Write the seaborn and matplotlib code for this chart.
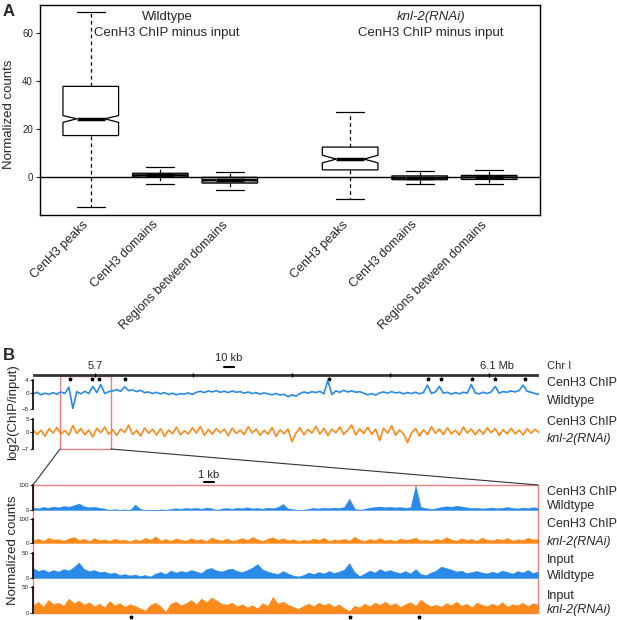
import numpy as np
import matplotlib
matplotlib.use("Agg")
import matplotlib.pyplot as plt
import matplotlib.transforms as mtrans
import seaborn as sns
from matplotlib.patches import Rectangle
from matplotlib.lines import Line2D

# ---- panel A : box summaries (normalized counts, CenH3 ChIP minus input)
box_labels = ["CenH3 peaks", "CenH3 domains", "Regions between domains"] * 2
box_pos = [0, 1, 2, 3.73, 4.73, 5.73]
box_med = [24.3, 0.75, -1.3, 7.5, -0.3, -0.1]
box_q1 = [17.3, 0.0, -2.5, 3.0, -1.1, -1.0]
box_q3 = [37.8, 1.6, -0.1, 12.5, 0.5, 0.7]
box_lo = [-12.5, -2.8, -5.3, -9.0, -2.9, -2.8]
box_hi = [68.7, 4.0, 2.2, 27.0, 2.5, 2.8]
box_cilo = [22.8, 0.6, -1.5, 5.9, -0.45, -0.25]
box_cihi = [25.6, 0.9, -1.1, 9.1, -0.15, 0.05]

# ---- panel B : chromosome I overview (Mb)
chr_lo, chr_hi = 5.637, 6.151
ruler_ticks = [5.7, 5.8, 5.9, 6.0, 6.1]
peak_mb = [5.6745, 5.697, 5.704, 5.7305, 5.9376, 6.0381, 6.0513, 6.0827, 6.1061, 6.1365]
zoom_lo, zoom_hi = 5.6645, 5.7162

# log2(ChIP/input), 128 bins across the overview
wt_log2 = [-0.3, 0.2, -0.6, -0.1, -0.5, 0.1, -0.4, 0.3, -0.2, 1.8, -4.8, 0.4, -0.3, 0.5, -0.2, 2.0,
           0.1, 2.6, -0.2, 0.4, 0.6, 1.0, 0.5, 1.9, 0.7, 0.9, 0.4, 0.8, 0.1, 0.3, -0.2, 0.2,
           -0.3, 0.1, -0.5, -0.1, -0.6, -0.2, -0.4, 0.0, -0.5, 0.2, 0.5, 0.1, 0.6, 0.3, 0.7, 0.2,
           0.5, 0.1, 0.6, 0.2, 0.4, -0.1, 0.3, -0.2, 0.1, -0.4, 0.0, -0.3, -0.6, -0.2, -0.7, -0.4,
           -1.2, -0.6, -1.0, -0.2, 0.3, -0.1, 0.4, 0.1, 0.5, -0.3, 3.9, -0.5, 0.6, 0.2, 0.8, 0.3,
           0.6, 0.2, 0.4, -0.1, -0.6, -0.2, -0.7, 0.0, 0.3, -0.1, 0.4, 0.0, 0.2, -0.3, 0.1, -0.2,
           0.2, -0.3, 0.1, 2.4, -0.2, 0.3, 2.0, -0.1, 0.2, -0.4, 0.1, -0.3, 0.2, -0.1, 2.6, 0.0,
           -0.3, 0.2, -0.2, 0.3, 2.0, -0.1, 0.4, 0.2, 0.6, 0.3, 0.7, 2.4, 0.5, 0.2, -0.2, -0.5]
knl_log2 = [0.8, -1.2, 0.5, -1.9, 1.1, -0.6, 1.6, -1.0, 0.4, -1.5, 2.4, -0.8, 1.2, -1.3, 0.6, -2.2,
            1.3, -0.5, 1.8, -1.1, 0.7, -1.6, 1.0, -0.4, 2.6, -1.2, 0.5, -1.8, 1.4, -0.7, 0.9, -1.4,
            1.1, -2.0, 0.6, -0.9, 1.7, -1.3, 0.3, -1.0, 1.5, -0.6, 2.0, -1.5, 0.8, -1.1, 1.2, -0.5,
            0.9, -1.7, 1.4, -0.8, 0.6, -1.2, 1.9, -0.6, 1.0, -1.5, 0.5, -1.1, 1.6, -2.0, 0.7, -0.9,
            1.0, -4.1, -0.7, 1.5, -1.3, 0.8, -0.6, 2.1, -1.0, 1.3, -1.6, 0.9, -0.5, 1.8, -1.2, 0.6,
            2.6, -1.4, 1.1, -0.8, 1.7, -1.1, 0.9, -3.6, 1.3, -0.7, 2.3, -1.5, 0.6, -1.0, -4.5, -0.6,
            1.2, -1.8, 0.7, -1.2, 1.9, -0.7, 0.9, -1.2, 1.5, -1.0, 0.5, -1.4, 1.8, -0.6, 1.0, -1.3,
            0.8, -1.1, 1.5, -0.5, 1.2, -1.6, 0.7, -0.9, 1.3, -1.0, 0.6, -1.4, 1.1, -0.7, 0.9, -0.4]

# zoomed region, normalized counts, 100 bins
chip_wt = [10, 7, 12, 9, 14, 11, 16, 13, 19, 26, 15, 11, 13, 9, 6, 0, 4, 0, 3, 0,
           22, 5, 0, 2, 0, 3, 0, 4, 7, 5, 8, 6, 9, 5, 10, 7, 0, 6, 8, 5,
           9, 7, 11, 6, 8, 5, 10, 7, 12, 24, 6, 3, 0, 0, 5, 8, 6, 9, 7, 10,
           8, 12, 46, 7, 0, 5, 9, 12, 14, 11, 13, 10, 12, 9, 11, 98, 12, 8, 4, 7,
           12, 15, 13, 17, 14, 11, 7, 9, 6, 8, 10, 7, 9, 12, 8, 6, 10, 8, 11, 9]
chip_knl = [12, 18, 9, 22, 14, 16, 10, 19, 25, 13, 17, 8, 21, 12, 15, 9, 18, 11, 14, 7,
            16, 10, 22, 13, 28, 11, 17, 9, 19, 14, 10, 20, 12, 16, 8, 23, 15, 11, 19, 9,
            14, 21, 12, 26, 15, 9, 18, 24, 13, 20, 11, 16, 8, 14, 10, 19, 13, 22, 9, 15,
            12, 18, 10, 26, 14, 9, 17, 12, 21, 11, 15, 8, 19, 13, 16, 22, 10, 14, 9, 18,
            12, 24, 15, 10, 20, 13, 17, 9, 23, 14, 11, 18, 13, 21, 10, 16, 12, 22, 15, 17]
input_wt = [20, 14, 17, 12, 16, 13, 18, 15, 22, 31, 18, 14, 16, 12, 13, 9, 11, 6, 8, 5,
            7, 4, 6, 3, 9, 12, 8, 15, 11, 14, 12, 16, 13, 10, 18, 20, 15, 13, 17, 19,
            14, 12, 16, 21, 28, 17, 13, 10, 8, 14, 9, 5, 3, 6, 11, 8, 12, 9, 14, 10,
            13, 17, 30, 12, 4, 9, 15, 11, 18, 13, 16, 12, 10, 14, 9, 18, 8, 6, 11, 15,
            23, 20, 17, 13, 15, 10, 12, 14, 11, 9, 13, 10, 15, 12, 9, 14, 11, 16, 10, 13]
input_knl = [15, 22, 12, 25, 17, 20, 14, 28, 19, 24, 16, 21, 13, 18, 11, 23, 15, 19, 12, 17,
             14, 9, 5, 16, 20, 13, 3, 18, 22, 15, 19, 25, 17, 28, 21, 30, 24, 18, 16, 20,
             13, 17, 11, 15, 9, 19, 14, 31, 18, 22, 16, 12, 8, 14, 18, 13, 20, 15, 19, 12,
             17, 9, 4, 14, 11, 18, 13, 20, 16, 22, 15, 19, 12, 17, 21, 14, 26, 18, 13, 16,
             12, 19, 15, 22, 14, 18, 11, 20, 16, 13, 18, 14, 21, 12, 17, 15, 20, 13, 19, 16]

track_names = [("CenH3 ChIP", "Wildtype"), ("CenH3 ChIP", "knl-2(RNAi)"),
               ("Input", "Wildtype"), ("Input", "knl-2(RNAi)")]

blue = "#2a8ae8"
orange = "#ff8a1c"
red = "#ec7f7f"

sns.set_style("white")
plt.rcParams["font.family"] = ["Liberation Sans", "DejaVu Sans"]

W, H = 617, 620
fig = plt.figure(figsize=(W / 100, H / 100), dpi=100)


def px_axes(x0, y0, x1, y1):
    return fig.add_axes([x0 / W, 1 - y1 / H, (x1 - x0) / W, (y1 - y0) / H])


def ftext(x, y, s, **kw):
    fig.text(x / W, 1 - y / H, s, **kw)


def to_fig(ax, x, y):
    return fig.transFigure.inverted().transform(ax.transData.transform((x, y)))


# ================= panel A
ax = px_axes(40, 5, 540, 215)
stats = []
for i in range(len(box_pos)):
    stats.append(dict(med=box_med[i], q1=box_q1[i], q3=box_q3[i], whislo=box_lo[i],
                      whishi=box_hi[i], cilo=box_cilo[i], cihi=box_cihi[i], fliers=[]))
ax.axhline(0, color="black", lw=1, zorder=1)
art = ax.bxp(stats, positions=box_pos, widths=0.8, shownotches=True, patch_artist=True,
             showfliers=False, manage_ticks=False, capwidths=0.4,
             boxprops=dict(facecolor="white", edgecolor="black", lw=0.9),
             medianprops=dict(color="black", lw=2.5),
             whiskerprops=dict(color="black", lw=0.9, ls=(0, (3, 2.5))),
             capprops=dict(color="black", lw=0.9), zorder=2)
# the thin boxes read as grey in the original
for patch, lo, hi in zip(art["boxes"], box_q1, box_q3):
    if hi - lo < 5:
        patch.set_facecolor("#8c8c8c")
ax.set_xlim(-0.73, 6.46)
ax.set_ylim(-15.8, 71.7)
ax.set_yticks([0, 20, 40, 60])
ax.set_xticks([])
# rotated category labels, ending just left of / below each box
lab_trans = mtrans.blended_transform_factory(ax.transData, ax.transAxes) + \
    mtrans.ScaledTranslation(-4 / 100, -8 / 100, fig.dpi_scale_trans)
for pos, lab in zip(box_pos, box_labels):
    ax.text(pos, 0, lab, transform=lab_trans, rotation=45, rotation_mode="anchor",
            ha="right", va="center", fontsize=9)
ax.tick_params(axis="y", length=3, width=0.8, labelsize=7, left=True, pad=2)
for s in ax.spines.values():
    s.set_color("black")
    s.set_linewidth(1)
ax.set_ylabel("Normalized counts", fontsize=9.5)
ax.yaxis.set_label_coords(-0.05, 0.48)
ax.text(0.254, 0.943, "Wildtype", transform=ax.transAxes, ha="center", va="center", fontsize=9.5)
ax.text(0.254, 0.867, "CenH3 ChIP minus input", transform=ax.transAxes, ha="center", va="center", fontsize=9.5)
ax.text(0.782, 0.943, "knl-2(RNAi)", transform=ax.transAxes, ha="center", va="center", fontsize=9.5, style="italic")
ax.text(0.782, 0.867, "CenH3 ChIP minus input", transform=ax.transAxes, ha="center", va="center", fontsize=9.5)

# ================= panel B overview
ruler = px_axes(33, 350, 539, 380)
ruler.set_xlim(chr_lo, chr_hi)
ruler.set_ylim(0, 1)
ruler.axis("off")
ruler.axhline(0.167, color="#333333", lw=2)
ruler.plot(ruler_ticks, [0.167] * len(ruler_ticks), ls="none", marker="|", ms=3, color="black")
ruler.scatter(peak_mb, [0.05] * len(peak_mb), marker="*", s=5, color="black", clip_on=False)
ruler.text(5.7, 0.47, "5.7", ha="center", va="center", fontsize=8)
ruler.annotate("6.1 Mb", (6.1, 0.47), xytext=(-6, 0), textcoords="offset points",
               ha="left", va="center", fontsize=8)
ruler.plot([5.831, 5.841], [0.43, 0.43], color="black", lw=1.5)
ruler.text(5.836, 0.72, "10 kb", ha="center", va="center", fontsize=8)

top_x = np.linspace(chr_lo, chr_hi, len(wt_log2))
ax_b1 = px_axes(33, 380, 539, 409)
sns.lineplot(x=top_x, y=wt_log2, ax=ax_b1, color=blue, lw=1.2, estimator=None)
ax_b1.set_ylim(-5, 4)
ax_b1.set_yticks([4, 0, -5])
ax_b2 = px_axes(33, 419, 539, 449)
sns.lineplot(x=top_x, y=knl_log2, ax=ax_b2, color=orange, lw=1.2, estimator=None)
ax_b2.set_ylim(-7, 5)
ax_b2.set_yticks([5, 0, -7])
for a in (ax_b1, ax_b2):
    a.set_xlim(chr_lo, chr_hi)

# ================= panel B zoom
low_x = np.linspace(zoom_lo, zoom_hi, len(chip_wt))
rows = [(485, 510, chip_wt, blue, 100), (519, 543, chip_knl, orange, 100),
        (553, 578, input_wt, blue, 50), (587, 613, input_knl, orange, 50)]
low_axes = []
for y0, y1, vals, col, top in rows:
    a = px_axes(33, y0, 538, y1)
    a.fill_between(low_x, vals, 0, color=col, lw=0.3, edgecolor=col)
    a.set_xlim(zoom_lo, zoom_hi)
    a.set_ylim(0, top)
    a.set_yticks([0, top])
    low_axes.append(a)

for a in [ax_b1, ax_b2] + low_axes:
    a.patch.set_visible(False)
    sns.despine(ax=a, top=True, right=True, bottom=True)
    a.spines["left"].set_color("black")
    a.spines["left"].set_linewidth(1.2)
    a.set_xticks([])
    a.set_xlabel("")
    a.set_ylabel("")
    a.tick_params(axis="y", length=2, width=0.8, labelsize=4.5, pad=1, left=True)

low_axes[0].plot([5.6820, 5.6830], [112, 112], color="black", lw=1.5, clip_on=False)
low_axes[0].text(5.6825, 140, "1 kb", ha="center", va="center", fontsize=8)
low_peaks = [p for p in peak_mb if zoom_lo < p < zoom_hi]
low_axes[3].scatter(low_peaks, [-8] * len(low_peaks), marker="*", s=5, color="black", clip_on=False)

# zoom box + connectors
x0, y0 = to_fig(ax_b2, zoom_lo, -7)
x1, y1 = to_fig(ruler, zoom_hi, 0.13)
fig.add_artist(Rectangle((x0, y0), x1 - x0, y1 - y0, transform=fig.transFigure,
                         fill=False, ec=red, lw=1, zorder=-1))
lx0, ly0 = to_fig(low_axes[3], zoom_lo, 0)
lx1, ly1 = to_fig(low_axes[0], zoom_hi, 100)
fig.add_artist(Rectangle((lx0, ly0), lx1 - lx0, ly1 - ly0, transform=fig.transFigure,
                         fill=False, ec=red, lw=1, zorder=-1))
x1b, _ = to_fig(ax_b2, zoom_hi, -7)
fig.add_artist(Line2D([x0, lx0], [y0, ly1], transform=fig.transFigure, color="#333333", lw=0.8))
fig.add_artist(Line2D([x1b, lx1], [y0, ly1], transform=fig.transFigure, color="#333333", lw=0.8))

# labels
ftext(3, 12, "A", fontsize=12, fontweight="bold", va="center")
ftext(3, 355, "B", fontsize=12, fontweight="bold", va="center")
ftext(13, 412, "log2(ChIP/input)", rotation=90, ha="center", va="center", fontsize=9.5)
ftext(13, 550, "Normalized counts", rotation=90, ha="center", va="center", fontsize=9.5)
ftext(547, 366, "Chr I", ha="left", va="center", fontsize=8)
right_rows = [(383, 401), (422, 439)]
for (ya, yb), (l1, l2) in zip(right_rows, track_names[:2]):
    ftext(547, ya, l1, ha="left", va="center", fontsize=9)
    ftext(547, yb, l2, ha="left", va="center", fontsize=9,
          style="italic" if "RNAi" in l2 else "normal")
low_rows = [(492, 506), (524, 542), (560, 576), (596, 610)]
for (ya, yb), (l1, l2) in zip(low_rows, track_names):
    ftext(547, ya, l1, ha="left", va="center", fontsize=9)
    ftext(547, yb, l2, ha="left", va="center", fontsize=9,
          style="italic" if "RNAi" in l2 else "normal")

fig.savefig("out.png", dpi=100)
